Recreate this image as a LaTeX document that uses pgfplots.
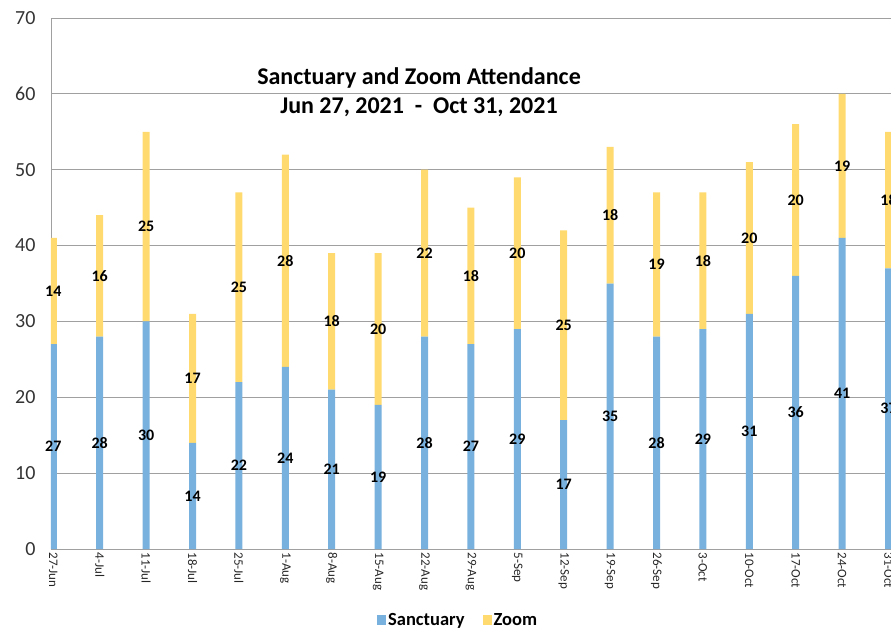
\documentclass[border=0pt]{standalone}
\usepackage{pgfplots}
\usepackage{pgfplotstable}
\pgfplotsset{compat=1.18}
\usepackage{fontspec}
\setmainfont{Carlito}
\definecolor{blueS}{RGB}{120,176,222}
\definecolor{yellowZ}{RGB}{255,218,110}
\definecolor{gridc}{RGB}{160,160,160}
\pgfplotstableread{
x s z
0 27 14
1 28 16
2 30 25
3 14 17
4 22 25
5 24 28
6 21 18
7 19 20
8 28 22
9 27 18
10 29 20
11 17 25
12 35 18
13 28 19
14 29 18
15 31 20
16 36 20
17 41 19
18 37 18
}\data
\pgfplotsset{
  common/.style={
    scale only axis,
    at={(51pt,80pt)}, anchor=south west,
    width=860.7pt, height=531pt,
    xmin=-0.05, xmax=18.5, ymin=0, ymax=70,
  }
}
\begin{document}
\begin{tikzpicture}
\path[use as bounding box] (0,0) rectangle (891pt,629pt);
\begin{axis}[common,
  ybar stacked, bar width=7pt,
  axis line style={gridc},
  ymajorgrids, grid style={gridc, line width=0.8pt},
  major tick length=0pt,
  ytick={0,10,...,70},
  xtick={0,...,18},
  xticklabels={27-Jun,4-Jul,11-Jul,18-Jul,25-Jul,1-Aug,8-Aug,15-Aug,22-Aug,29-Aug,5-Sep,12-Sep,19-Sep,26-Sep,3-Oct,10-Oct,17-Oct,24-Oct,31-Oct},
  x tick label style={rotate=-90, anchor=west, font=\fontsize{13}{14}\selectfont, text=black!85},
  yticklabel style={anchor=east, xshift=-12pt, font=\fontsize{20}{21}\selectfont, text=black!80},
  /pgf/number format/assume math mode=true,
  legend style={at={(0.473,-0.134)}, anchor=center, draw=none, legend columns=2,
    font=\bfseries\fontsize{18.5}{20}\selectfont, /tikz/every even column/.append style={column sep=16pt}},
  legend image code/.code={\fill[#1] (0pt,-5pt) rectangle (9pt,5pt);},
]
\addplot[fill=blueS, draw=none] table[x=x, y=s] {\data};
\addlegendentry{Sanctuary}
\addplot[fill=yellowZ, draw=none] table[x=x, y=z] {\data};
\addlegendentry{Zoom}
\end{axis}
\begin{axis}[common, hide axis, clip=false]
\addplot[only marks, mark=none, nodes near coords, nodes near coords align={center},
  point meta=explicit symbolic,
  every node near coord/.append style={font=\bfseries\fontsize{16}{17}\selectfont, text=black}]
  table[x=x, y expr=\thisrow{s}/2, meta=s] {\data};
\addplot[only marks, mark=none, nodes near coords, nodes near coords align={center},
  point meta=explicit symbolic,
  every node near coord/.append style={font=\bfseries\fontsize{16}{17}\selectfont, text=black}]
  table[x=x, y expr=\thisrow{s}+\thisrow{z}/2, meta=z] {\data};
\end{axis}
\node[font=\bfseries\fontsize{24}{26}\selectfont] at (419pt,551pt) {Sanctuary and Zoom Attendance};
\node[font=\bfseries\fontsize{24}{26}\selectfont] at (419pt,522pt) {Jun 27, 2021\ \ -\ \ Oct 31, 2021};
\end{tikzpicture}
\end{document}
